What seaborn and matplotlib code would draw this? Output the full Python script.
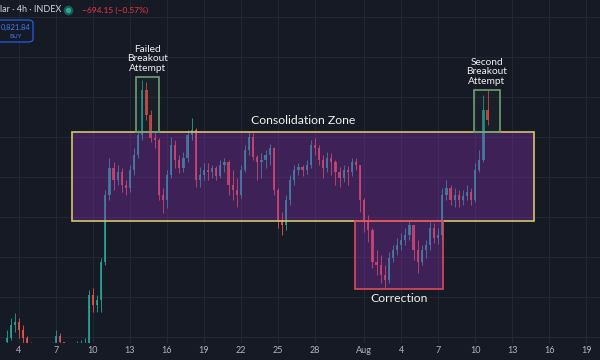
import numpy as np
import pandas as pd
import matplotlib
matplotlib.use("Agg")
import matplotlib.pyplot as plt
import matplotlib.dates as mdates
from matplotlib.patches import Rectangle, FancyBboxPatch
from matplotlib.lines import Line2D
import seaborn as sns

# 8h candles, BTC/USD, 3 Jul - 11 Aug
first_open = 109750
closes = [109950, 110600, 110750, 110350, 109950, 109650, 109450, 109350, 109400, 109500,
          109350, 109550, 110050, 109750, 109350, 109250, 109150, 109450, 109600, 109650,
          112100, 111600, 111850, 113750, 117100, 118450, 117850, 118250, 117600, 117450,
          118350, 119100, 120100, 122350, 121100, 119950, 119850, 117100, 116850, 118100,
          119600, 118850, 118450, 118950, 120100, 120350, 117850, 118100, 118350, 118250,
          118450, 118050, 118600, 118750, 117600, 117350, 117100, 118350, 119350, 120000,
          119000, 118750, 118850, 119100, 119450, 117350, 115850, 115600, 116850, 117850,
          118350, 118500, 118350, 118600, 119600, 119450, 118850, 118450, 118950, 118750,
          118250, 117950, 118350, 118250, 118750, 118600, 116850, 115750, 115350, 113750,
          113600, 113100, 112850, 113950, 114350, 114600, 114850, 115100, 115600, 114350,
          113750, 114350, 114600, 115450, 114950, 115100, 117100, 117450, 116850, 117100,
          116850, 117050, 117250, 116850, 118350, 118850, 121350, 120850]
highs = [110350, 110950, 111200, 110950, 110600, 110050, 109750, 109600, 109650, 109700,
         109600, 109750, 110350, 110200, 109700, 109550, 109450, 109800, 109850, 109950,
         112350, 112450, 112100, 113950, 117350, 118950, 118750, 118600, 118450, 117850,
         118600, 119450, 120350, 122850, 122750, 121350, 120250, 119950, 117450, 118350,
         120000, 119850, 119100, 119250, 120350, 120950, 120450, 118500, 118700, 118700,
         118600, 118550, 118850, 118950, 118850, 118350, 117950, 118600, 119600, 120250,
         120200, 119100, 119200, 119350, 119650, 119500, 117450, 116250, 117100, 118100,
         118600, 118700, 118600, 118850, 119850, 119950, 119600, 119100, 119250, 119200,
         118850, 118500, 118600, 118550, 118950, 118950, 118600, 116950, 116100, 115450,
         114350, 114100, 113600, 114250, 114600, 114950, 115200, 115450, 115850, 115600,
         114850, 114600, 114850, 115750, 115700, 115450, 117450, 117850, 117600, 117450,
         117350, 117350, 117600, 117450, 118700, 119350, 122100, 122350]
lows = [109450, 109850, 110250, 109950, 109600, 109250, 109050, 109050, 109100, 109150,
        109050, 109200, 109550, 109450, 108950, 108850, 108750, 109050, 109250, 109350,
        109550, 111250, 111250, 111250, 113600, 116850, 117350, 117600, 117250, 117100,
        117250, 118100, 118950, 119850, 120850, 119750, 119450, 116850, 116200, 116450,
        117950, 118450, 118200, 118250, 118750, 119850, 117500, 117500, 117850, 117850,
        117950, 117850, 117950, 118250, 117100, 116850, 116500, 116950, 118250, 119100,
        118850, 117850, 117950, 118450, 118600, 117100, 115450, 115100, 115350, 116600,
        117600, 118100, 118050, 118150, 118450, 119100, 118600, 117950, 118250, 118100,
        117600, 117500, 117750, 117600, 118050, 118350, 116250, 115250, 114750, 113450,
        113100, 112700, 112450, 112700, 113750, 114100, 114350, 114600, 114850, 113850,
        113200, 113600, 113950, 114350, 114700, 114650, 114850, 116850, 116600, 116500,
        116500, 116600, 116850, 116600, 116750, 118250, 118750, 120600]
times = pd.date_range("2025-07-03", periods=len(closes), freq="8h")

tick_dates = ["2025-07-04", "2025-07-07", "2025-07-10", "2025-07-13", "2025-07-16",
              "2025-07-19", "2025-07-22", "2025-07-25", "2025-07-28", "2025-08-01",
              "2025-08-04", "2025-08-07", "2025-08-10", "2025-08-13", "2025-08-16",
              "2025-08-19"]
tick_labels = ["4", "7", "10", "13", "16", "19", "22", "25", "28", "Aug",
               "4", "7", "10", "13", "16", "19"]

# annotation boxes: start, end, low, high
consolidation = ("2025-07-08 07:00", "2025-08-14 18:30", 115800, 120250)
failed_breakout = ("2025-07-13 11:45", "2025-07-15 08:30", 120250, 123000)
correction = ("2025-07-31 06:00", "2025-08-07 09:20", 112400, 115800)
second_breakout = ("2025-08-09 21:40", "2025-08-12 00:00", 120250, 122350)

bg = "#161a25"
up_col = "#26a69a"
down_col = "#ef5350"

sns.set_theme(style="dark", rc={"axes.facecolor": bg, "figure.facecolor": bg,
                                "grid.color": "#222735", "grid.linewidth": 0.8,
                                "axes.edgecolor": bg})
plt.rcParams["font.family"] = ["Lato", "DejaVu Sans"]

fig = plt.figure(figsize=(6, 3.6), dpi=100)
ax = fig.add_axes([0, 17 / 360, 1, 343 / 360])

x = mdates.date2num(times)
c = np.array(closes, dtype=float)
o = np.concatenate([[first_open], c[:-1]])
cols = [up_col if cc >= oo else down_col for oo, cc in zip(o, c)]
ax.vlines(x, lows, highs, colors=cols, lw=0.7, alpha=0.85, zorder=2)
body = np.where(np.abs(c - o) < 40, 40, c - o)
ax.bar(x, body, bottom=o, width=0.18, color=cols, alpha=0.85, lw=0, zorder=2)


def box(spec, edge, face, alpha):
    x0, x1 = mdates.date2num(pd.Timestamp(spec[0])), mdates.date2num(pd.Timestamp(spec[1]))
    if face is not None:
        ax.add_patch(Rectangle((x0, spec[2]), x1 - x0, spec[3] - spec[2], facecolor=face,
                               alpha=alpha, lw=0, zorder=3))
    ax.add_patch(Rectangle((x0, spec[2]), x1 - x0, spec[3] - spec[2], facecolor="none",
                           edgecolor=edge, lw=1.2, zorder=4))
    return (x0 + x1) / 2


cx_cons = box(consolidation, "#d6c46a", "#8a2fb5", 0.35)
cx_corr = box(correction, "#dd4a5c", "#8a2fb5", 0.35)
cx_fail = box(failed_breakout, "#6e9f72", "#2a3a30", 0.2)
cx_sec = box(second_breakout, "#6e9f72", "#2a3a30", 0.2)

txt = dict(color="#f0f0f0", ha="center", textcoords="offset points")
ax.annotate("Failed\nBreakout\nAttempt", (cx_fail, failed_breakout[3]), xytext=(0, 3),
            va="bottom", fontsize=7.3, linespacing=1.05, **txt)
ax.annotate("Second\nBreakout\nAttempt", (cx_sec, second_breakout[3]), xytext=(0, 3),
            va="bottom", fontsize=7.3, linespacing=1.05, **txt)
ax.annotate("Consolidation Zone", (cx_cons, consolidation[3]), xytext=(0, 4),
            va="bottom", fontsize=8.8, **txt)
ax.annotate("Correction", (cx_corr, correction[2]), xytext=(0, -3),
            va="top", fontsize=8.8, **txt)

ax.set_xlim(mdates.date2num(pd.Timestamp("2025-07-02 11:00")),
            mdates.date2num(pd.Timestamp("2025-08-20 03:00")))
ax.set_ylim(109700, 126850)
ax.set_yticks(np.arange(110000, 126001, 2000))
ax.set_yticklabels([])
ax.set_xticks(mdates.date2num(pd.to_datetime(tick_dates)))
ax.set_xticklabels(tick_labels)
ax.tick_params(axis="x", length=0, pad=2, labelsize=6.5, labelcolor="#b2b5be")
ax.tick_params(axis="y", length=0)
ax.grid(True)
for s in ax.spines.values():
    s.set_visible(False)

# header (left part of the symbol line is cut off in the screenshot)
fig.text(0, 1 - 10 / 360, "lar · 4h · INDEX", ha="left",
         va="center", color="#d1d4dc", fontsize=6.5)
fig.add_artist(Line2D([68 / 600], [1 - 10 / 360], marker="o", ms=6, color="#22ab94",
                      alpha=0.35, transform=fig.transFigure))
fig.add_artist(Line2D([68 / 600], [1 - 10 / 360], marker="o", ms=3, color="#22ab94",
                      transform=fig.transFigure))
fig.text(82 / 600, 1 - 10 / 360, "\u2212694.15 (\u22120.57%)", ha="left", va="center",
         color="#f23645", fontsize=6)
fig.add_artist(FancyBboxPatch((-5 / 600, 1 - 42 / 360), 38 / 600, 22 / 360,
                              boxstyle="round,pad=0,rounding_size=0.008",
                              transform=fig.transFigure, facecolor=bg,
                              edgecolor="#2962ff", lw=0.8))
fig.text(1 / 600, 1 - 27 / 360, "0,821.84", ha="left", va="center",
         color="#3d7bff", fontsize=5.4)
fig.text(16 / 600, 1 - 37 / 360, "BUY", ha="center", va="center",
         color="#3d7bff", fontsize=4.5)

fig.savefig("out.png", dpi=100, facecolor=bg)
